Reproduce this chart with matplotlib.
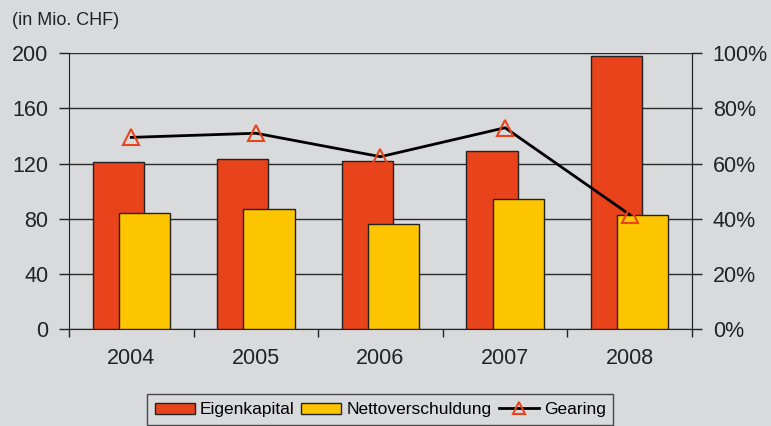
import matplotlib.pyplot as plt
import numpy as np
from matplotlib.patches import Patch
from matplotlib.lines import Line2D

plt.rcParams['font.family'] = ['Liberation Sans', 'DejaVu Sans']

years = ['2004', '2005', '2006', '2007', '2008']
eigenkapital = [121, 123, 122, 129, 198]
nettoverschuldung = [84, 87, 76, 94, 83]
gearing = [69.5, 71, 62.5, 73, 41.5]

bg = '#d9dadc'
red = '#e8431a'
yellow = '#fdc400'

fig = plt.figure(figsize=(7.71, 4.26), dpi=100, facecolor=bg)
ax = fig.add_axes([0.0895, 0.2277, 0.808, 0.6472])
ax.set_facecolor(bg)

x = np.arange(len(years))
w = 0.41
ax.bar(x - 0.105, eigenkapital, w, color=red, edgecolor='#222222', linewidth=1, zorder=3)
ax.bar(x + 0.105, nettoverschuldung, w, color=yellow, edgecolor='#222222', linewidth=1, zorder=4)

ax.set_xlim(-0.5, 4.5)
ax.set_ylim(0, 200)
ax.set_yticks(np.arange(0, 201, 40))
ax.yaxis.grid(True, color='#2a2a2a', linewidth=1, zorder=0)
ax.set_axisbelow(True)
ax.tick_params(axis='y', labelsize=15.5, length=7, width=1, pad=8, colors='#222222')
ax.set_xticks(x)
ax.set_xticklabels(years)
ax.set_xticks(np.arange(-0.5, 4.6, 1), minor=True)
ax.tick_params(axis='x', which='major', length=0, labelsize=15.5, pad=14, colors='#222222')
ax.tick_params(axis='x', which='minor', length=6, width=1, color='#222222')
ax.spines['top'].set_visible(False)
for s in ['left', 'bottom', 'right']:
    ax.spines[s].set_color('#222222')

ax2 = ax.twinx()
ax2.set_ylim(0, 100)
ax2.set_yticks(np.arange(0, 101, 20))
ax2.set_yticklabels([f'{v}%' for v in range(0, 101, 20)])
ax2.tick_params(axis='y', labelsize=15.5, length=7, width=1, pad=8, colors='#222222')
ax2.plot(x, gearing, color='black', linewidth=2, zorder=5)
ax2.plot(x, gearing, linestyle='none', marker='^', markersize=11, markerfacecolor='none',
         markeredgecolor=red, markeredgewidth=1.5, zorder=6)
for s in ['top', 'left', 'bottom']:
    ax2.spines[s].set_visible(False)
ax2.spines['right'].set_color('#222222')

fig.text(0.016, 0.952, '(in Mio. CHF)', fontsize=13, color='#222222', va='center')

handles = [
    Patch(facecolor=red, edgecolor='#222222', label='Eigenkapital'),
    Patch(facecolor=yellow, edgecolor='#222222', label='Nettoverschuldung'),
    Line2D([0], [0], color='black', linewidth=2, marker='^', markersize=9,
           markerfacecolor='none', markeredgecolor=red, markeredgewidth=1.5, label='Gearing'),
]
leg = fig.legend(handles=handles, loc='center', bbox_to_anchor=(0.493, 0.038), ncol=3,
                 fontsize=12.5, frameon=True, fancybox=False, edgecolor='#222222',
                 facecolor=bg, handlelength=2.3, handleheight=0.6, handletextpad=0.3,
                 columnspacing=0.4, borderpad=0.45, borderaxespad=0)
leg.get_frame().set_linewidth(1)

fig.savefig('out.png', dpi=100, facecolor=bg)
